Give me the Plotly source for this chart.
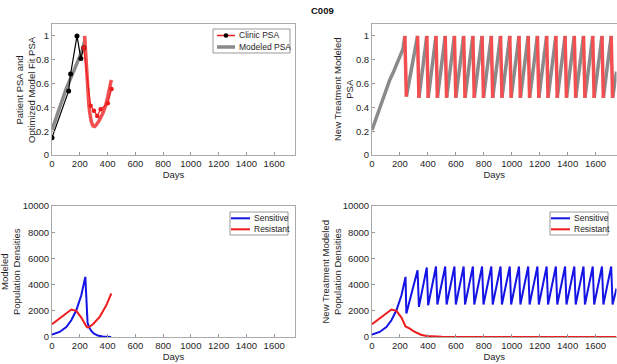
import plotly.graph_objects as go

# ---------------- data ----------------
# Top-left: clinic PSA
clinic_off_days = [0, 120, 134, 180, 208, 228]
clinic_off_psa = [0.145, 0.538, 0.68, 1.0, 0.81, 0.90]
clinic_on_days = [228, 278, 302, 326, 350, 402, 429]
clinic_on_psa = [0.90, 0.414, 0.372, 0.328, 0.384, 0.434, 0.555]

# Top-left: modeled PSA
model_off_days = [0, 25, 55, 103, 151, 199, 222, 235]
model_off_psa = [0.21, 0.29, 0.39, 0.56, 0.69, 0.82, 0.89, 0.96]
model_on_days = [235, 241, 247, 253, 259, 265, 271, 283, 295, 307, 320, 340, 366, 385, 402, 415, 427]
model_on_psa = [1.0, 0.87, 0.74, 0.62, 0.52, 0.43, 0.36, 0.28, 0.245, 0.24, 0.255, 0.29, 0.35, 0.41, 0.49, 0.56, 0.63]

# Top-right: new treatment modeled PSA (initial rise, then cycles)
nt_rise_days = [0, 25, 55, 80, 103, 127, 151, 175, 199, 222, 235]
nt_rise_psa = [0.21, 0.29, 0.39, 0.48, 0.56, 0.63, 0.69, 0.76, 0.82, 0.89, 1.0]
cycle_peak_days = [235, 326, 392, 458, 524, 590, 656, 722, 788, 854, 920, 986,
                   1052, 1118, 1184, 1250, 1316, 1382, 1448, 1514, 1580, 1646, 1712]
cycle_trough_days = [246, 336, 402, 468, 534, 600, 666, 732, 798, 864, 930, 996,
                     1062, 1128, 1194, 1260, 1326, 1392, 1458, 1524, 1590, 1656, 1722]
cycle_peak_psa = [1.0] * 23
cycle_trough_psa = [0.49] + [0.48] * 22
nt_end_day = 1750
nt_end_psa = 0.70

# Bottom-left: modeled population densities
pop_days_s = [0, 55, 103, 139, 175, 211, 240, 245, 250, 256, 265, 280, 300, 330, 366, 400, 426]
sensitive = [180, 383, 765, 1275, 2040, 3190, 4590, 3000, 1700, 1100, 800, 500, 280, 110, 40, 10, 0]
pop_days_r = [0, 55, 103, 139, 175, 211, 247, 259, 295, 343, 391, 427]
resistant = [970, 1400, 1840, 2100, 2000, 1480, 820, 720, 970, 1530, 2420, 3320]

# Bottom-right: new treatment population densities
nt_s_rise_days = [0, 55, 103, 139, 175, 211, 240]
nt_s_rise = [180, 383, 765, 1275, 2040, 3190, 4590]
s_peak_vals = [4590, 5100, 5300] + [5380] * 20
s_trough_vals = [1800, 2300, 2420] + [2480] * 20
nt_s_end = 3700
nt_r_days = [0, 55, 103, 139, 175, 211, 240, 250, 271, 300, 319, 350, 391, 450, 500, 600, 1750]
nt_resistant = [970, 1400, 1840, 2100, 2000, 1480, 800, 750, 640, 420, 300, 170, 80, 40, 20, 8, 0]

# ---------------- styling ----------------
RED = "#ee1c1c"
LRED = "#f25050"
GRAY = "#8a8a8a"
BLUE = "#1414e6"
TXT = "#262626"
FONT = "Liberation Sans"
W, H = 617, 364


def px(x):
    return x / W


def py(y):
    return 1 - y / H


fig = go.Figure()

# Top-left
fig.add_trace(go.Scatter(x=model_off_days, y=model_off_psa, mode="lines",
                         line=dict(color=GRAY, width=3.5), xaxis="x", yaxis="y"))
fig.add_trace(go.Scatter(x=model_on_days, y=model_on_psa, mode="lines",
                         line=dict(color=LRED, width=3.5), xaxis="x", yaxis="y"))
fig.add_trace(go.Scatter(x=clinic_off_days, y=clinic_off_psa, mode="lines+markers",
                         line=dict(color="black", width=1.2), marker=dict(color="black", size=5),
                         xaxis="x", yaxis="y"))
fig.add_trace(go.Scatter(x=clinic_on_days, y=clinic_on_psa, mode="lines+markers",
                         line=dict(color=RED, width=1.2), marker=dict(color=RED, size=4.5),
                         xaxis="x", yaxis="y"))

# Top-right: gray rise segments and red drop segments
gx, gy = list(nt_rise_days), list(nt_rise_psa)
rx, ry = [], []
n = len(cycle_peak_days)
for i in range(n):
    rx += [cycle_peak_days[i], cycle_trough_days[i], None]
    ry += [cycle_peak_psa[i], cycle_trough_psa[i], None]
    gx.append(None); gy.append(None)
    if i + 1 < n:
        gx += [cycle_trough_days[i], cycle_peak_days[i + 1]]
        gy += [cycle_trough_psa[i], cycle_peak_psa[i + 1]]
    else:
        gx += [cycle_trough_days[i], nt_end_day]
        gy += [cycle_trough_psa[i], nt_end_psa]
fig.add_trace(go.Scatter(x=gx, y=gy, mode="lines", line=dict(color=GRAY, width=3.5),
                         xaxis="x2", yaxis="y2"))
fig.add_trace(go.Scatter(x=rx, y=ry, mode="lines", line=dict(color=LRED, width=3.5),
                         xaxis="x2", yaxis="y2"))

# Bottom-left
fig.add_trace(go.Scatter(x=pop_days_s, y=sensitive, mode="lines", name="Sensitive",
                         line=dict(color=BLUE, width=2), xaxis="x3", yaxis="y3"))
fig.add_trace(go.Scatter(x=pop_days_r, y=resistant, mode="lines", name="Resistant",
                         line=dict(color=RED, width=2), xaxis="x3", yaxis="y3"))

# Bottom-right
bx, by = list(nt_s_rise_days), list(nt_s_rise)
for i in range(n):
    if i > 0:
        bx.append(cycle_peak_days[i]); by.append(s_peak_vals[i])
    bx.append(cycle_trough_days[i]); by.append(s_trough_vals[i])
bx.append(nt_end_day); by.append(nt_s_end)
fig.add_trace(go.Scatter(x=bx, y=by, mode="lines", name="Sensitive",
                         line=dict(color=BLUE, width=2), xaxis="x4", yaxis="y4"))
fig.add_trace(go.Scatter(x=nt_r_days, y=nt_resistant, mode="lines", name="Resistant",
                         line=dict(color=RED, width=2), xaxis="x4", yaxis="y4"))

# ---------------- layout ----------------
xl = [px(52), px(295)]
xr = [px(372), px(616.5)]
yt = [py(155), py(24)]
yb = [py(337), py(206)]


def xax(domain, anchor):
    return dict(domain=domain, anchor=anchor, range=[0, 1750], tickvals=list(range(0, 1601, 200)),
                ticks="inside", ticklen=3, tickcolor="#999", showline=True, linecolor="#aaa",
                linewidth=1, mirror=True, showgrid=False, zeroline=False,
                tickfont=dict(size=9.5, color=TXT, family=FONT),
                title=dict(text="Days", font=dict(size=9.5, color=TXT, family=FONT), standoff=2))


def yax(domain, anchor, rng, tv):
    return dict(domain=domain, anchor=anchor, range=rng, tickvals=tv,
                ticktext=[("%g" % v) for v in tv],
                ticks="inside", ticklen=3, tickcolor="#999", showline=True, linecolor="#aaa",
                linewidth=1, mirror=True, showgrid=False, zeroline=False,
                tickfont=dict(size=9.5, color=TXT, family=FONT))


psa_ticks = [0, 0.2, 0.4, 0.6, 0.8, 1]
pop_ticks = [0, 2000, 4000, 6000, 8000, 10000]

annotations = [dict(text="<b>C009</b>", x=px(322), y=py(10.5), xref="paper", yref="paper",
                    showarrow=False, font=dict(size=9.5, color="#111", family=FONT),
                    xanchor="center", yanchor="middle")]
# y-axis titles
for text, cx, cy in [("Patient PSA and<br>Optimized Model Fit PSA", 25.5, 89.5),
                     ("New Treatment Modeled<br>PSA", 343.5, 89.5),
                     ("Modeled<br>Population Densities", 10.5, 271.5),
                     ("New Treatment Modeled<br>Population Densities", 331, 271.5)]:
    annotations.append(dict(text=text, x=px(cx), y=py(cy), xref="paper", yref="paper",
                            showarrow=False, textangle=-90, xanchor="center", yanchor="middle",
                            font=dict(size=9.5, color=TXT, family=FONT)))

shapes = []


def add_legend(box, rows):
    x0, y0, x1, y1 = box
    shapes.append(dict(type="rect", xref="paper", yref="paper", x0=px(x0), x1=px(x1),
                       y0=py(y1), y1=py(y0), line=dict(color="#999", width=1), fillcolor="white",
                       layer="above"))
    for label, yy, lx0, lx1, color, width, marker in rows:
        shapes.append(dict(type="line", xref="paper", yref="paper", x0=px(lx0), x1=px(lx1),
                           y0=py(yy), y1=py(yy), line=dict(color=color, width=width), layer="above"))
        if marker:
            mx = (lx0 + lx1) / 2
            shapes.append(dict(type="circle", xref="paper", yref="paper", x0=px(mx - 2.3),
                               x1=px(mx + 2.3), y0=py(yy + 2.3), y1=py(yy - 2.3),
                               fillcolor=marker, line=dict(color=marker, width=0), layer="above"))
        annotations.append(dict(text=label, x=px(lx1 + 1.5), y=py(yy), xref="paper", yref="paper",
                                showarrow=False, xanchor="left", yanchor="middle",
                                font=dict(size=8.5, color=TXT, family=FONT)))


add_legend((213, 29, 290, 53), [("Clinic PSA", 35.5, 217, 235, RED, 1.5, "black"),
                                 ("Modeled PSA", 47, 217, 235, GRAY, 3.5, None)])
add_legend((230, 212, 288, 235), [("Sensitive", 218.3, 231, 250, BLUE, 2, None),
                                   ("Resistant", 229.3, 231, 250, RED, 2, None)])
add_legend((550, 212, 608, 235), [("Sensitive", 218.3, 551, 570, BLUE, 2, None),
                                   ("Resistant", 229.3, 551, 570, RED, 2, None)])

fig.update_layout(
    width=W, height=H, margin=dict(l=0, r=0, t=0, b=0, autoexpand=False),
    paper_bgcolor="white", plot_bgcolor="white", showlegend=False,
    xaxis=xax(xl, "y"), yaxis=yax(yt, "x", [0, 1.1], psa_ticks),
    xaxis2=xax(xr, "y2"), yaxis2=yax(yt, "x2", [0, 1.1], psa_ticks),
    xaxis3=xax(xl, "y3"), yaxis3=yax(yb, "x3", [0, 10000], pop_ticks),
    xaxis4=xax(xr, "y4"), yaxis4=yax(yb, "x4", [0, 10000], pop_ticks),
    annotations=annotations, shapes=shapes,
)

# remove the default page margin so the figure sits at the window's top-left corner
fig.write_html("out.html", config={"displayModeBar": False},
               post_script="document.body.style.margin='0px';")
